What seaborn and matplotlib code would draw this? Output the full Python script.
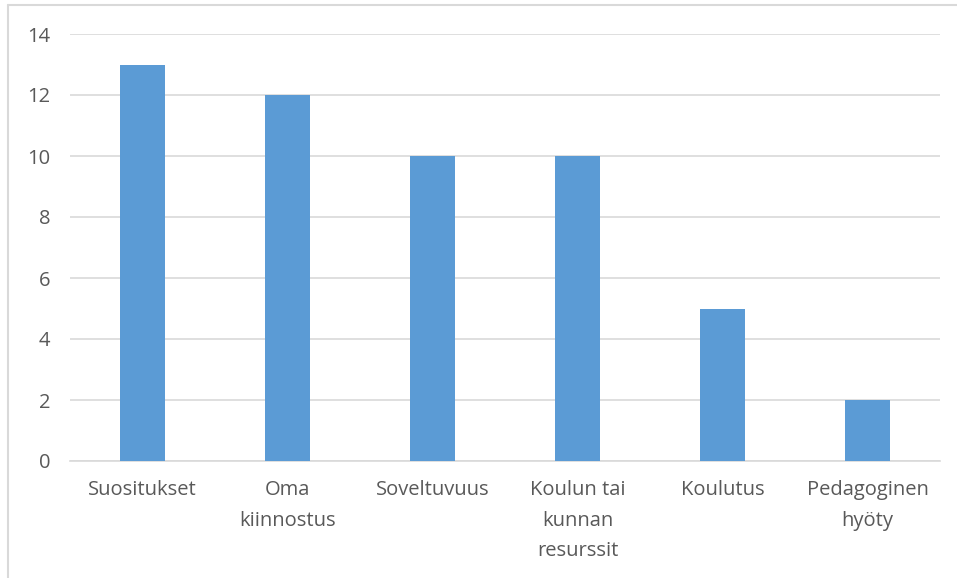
import matplotlib
matplotlib.use("Agg")
import matplotlib.pyplot as plt
from matplotlib.lines import Line2D
import seaborn as sns
import pandas as pd

categories = ["Suositukset", "Oma\nkiinnostus", "Soveltuvuus",
              "Koulun tai\nkunnan\nresurssit", "Koulutus", "Pedagoginen\nhyöty"]
values = [13, 12, 10, 10, 5, 2]
y_ticks = [0, 2, 4, 6, 8, 10, 12, 14]

df = pd.DataFrame({"category": categories, "value": values})

sns.set_theme(style="white")
plt.rcParams["font.family"] = ["Open Sans", "DejaVu Sans"]

W, H = 957, 578
fig = plt.figure(figsize=(W / 100, H / 100), dpi=100)
ax = fig.add_axes([70 / W, 1 - 461 / H, 870 / W, (461 - 34) / H])

sns.barplot(data=df, x="category", y="value", color="#5B9BD5",
            width=0.31, saturation=1, linewidth=0, ax=ax, zorder=3)

ax.set_xlim(-0.5, len(categories) - 0.5)
ax.set_ylim(0, 14)
ax.set_yticks(y_ticks)
ax.set_yticklabels([str(t) for t in y_ticks])
ax.yaxis.grid(True, color="#D9D9D9", linewidth=1.2, zorder=0)
ax.set_axisbelow(True)
for side in ["top", "right", "left"]:
    ax.spines[side].set_visible(False)
ax.spines["bottom"].set_color("#D9D9D9")
ax.spines["bottom"].set_linewidth(1.2)
ax.set_xlabel("")
ax.set_ylabel("")
ax.tick_params(axis="both", length=0, labelsize=14.5, labelcolor="#595959")
ax.tick_params(axis="y", pad=14)
ax.tick_params(axis="x", pad=14)
for lbl in ax.get_xticklabels():
    lbl.set_linespacing(1.68)
    lbl.set_verticalalignment("top")

# chart frame: top and left edges
fig.add_artist(Line2D([8 / W, 1], [1 - 5 / H, 1 - 5 / H], transform=fig.transFigure,
                      color="#D9D9D9", linewidth=1.5))
fig.add_artist(Line2D([8 / W, 8 / W], [0, 1 - 5 / H], transform=fig.transFigure,
                      color="#D9D9D9", linewidth=1.5))

fig.savefig("out.png", dpi=100)
